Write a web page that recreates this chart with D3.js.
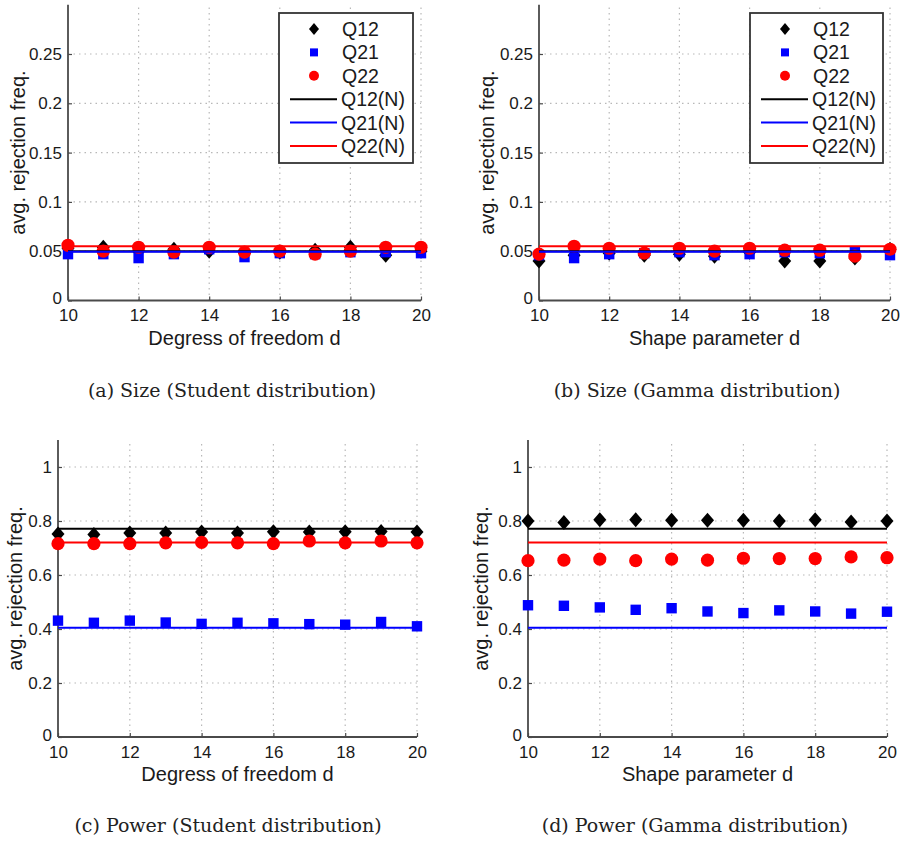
<!DOCTYPE html>
<html>
<head>
<meta charset="utf-8">
<script src="https://cdn.jsdelivr.net/npm/d3@7"></script>
<style>
  html, body { margin: 0; padding: 0; background: #fff; }
  svg { display: block; }
</style>
</head>
<body>
<svg id="chart" width="901" height="842"></svg>
<script>
// ---------------- data ----------------
const dValues = [10, 11, 12, 13, 14, 15, 16, 17, 18, 19, 20];
const xTicks = [10, 12, 14, 16, 18, 20];
const sizeTicks = [0, 0.05, 0.1, 0.15, 0.2, 0.25];
const powerTicks = [0, 0.2, 0.4, 0.6, 0.8, 1];
const seriesNames = ["Q12", "Q21", "Q22"];
const lineNames = ["Q12(N)", "Q21(N)", "Q22(N)"];

// (a) Size, Student
const sizeStudentQ12 = [0.053, 0.054, 0.050, 0.052, 0.050, 0.048, 0.049, 0.051, 0.054, 0.046, 0.050];
const sizeStudentQ21 = [0.047, 0.047, 0.043, 0.047, 0.052, 0.044, 0.048, 0.047, 0.049, 0.049, 0.048];
const sizeStudentQ22 = [0.056, 0.050, 0.054, 0.049, 0.054, 0.049, 0.050, 0.047, 0.050, 0.054, 0.054];
// (b) Size, Gamma
const sizeGammaQ12 = [0.040, 0.046, 0.048, 0.046, 0.047, 0.045, 0.049, 0.040, 0.040, 0.043, 0.052];
const sizeGammaQ21 = [0.046, 0.043, 0.047, 0.048, 0.049, 0.046, 0.047, 0.049, 0.048, 0.050, 0.046];
const sizeGammaQ22 = [0.047, 0.055, 0.053, 0.048, 0.053, 0.050, 0.053, 0.051, 0.051, 0.045, 0.052];
// (c) Power, Student
const powerStudentQ12 = [0.752, 0.750, 0.756, 0.756, 0.759, 0.756, 0.760, 0.759, 0.760, 0.761, 0.759];
const powerStudentQ21 = [0.431, 0.423, 0.431, 0.424, 0.419, 0.423, 0.421, 0.418, 0.416, 0.426, 0.410];
const powerStudentQ22 = [0.716, 0.716, 0.716, 0.719, 0.721, 0.719, 0.716, 0.726, 0.719, 0.726, 0.719];
// (d) Power, Gamma
const powerGammaQ12 = [0.800, 0.794, 0.805, 0.805, 0.803, 0.803, 0.803, 0.800, 0.805, 0.796, 0.800];
const powerGammaQ21 = [0.488, 0.486, 0.480, 0.471, 0.477, 0.465, 0.459, 0.469, 0.465, 0.457, 0.464];
const powerGammaQ22 = [0.653, 0.655, 0.659, 0.653, 0.659, 0.655, 0.662, 0.661, 0.661, 0.667, 0.664];
// normal-reference levels (Q12(N), Q21(N), Q22(N))
const sizeNormal = [0.050, 0.0495, 0.055];
const powerNormal = [0.771, 0.405, 0.720];

const xLabelStudent = "Degress of freedom d";
const xLabelGamma = "Shape parameter d";
const yLabel = "avg. rejection freq.";
const captions = [
  "(a) Size (Student distribution)",
  "(b) Size (Gamma distribution)",
  "(c) Power (Student distribution)",
  "(d) Power (Gamma distribution)"
];

// ---------------- layout ----------------
const colors = ["#000000", "#0000ff", "#ff0000"];
const panels = [
  { x0: 68, x1: 421, yB: 300.5, yT: 4.7, dom: [0, 0.3], ticks: sizeTicks,
    s: [sizeStudentQ12, sizeStudentQ21, sizeStudentQ22], n: sizeNormal,
    xl: xLabelStudent, ylx: 18, cap: captions[0], capx: 232, capy: 390,
    legend: { x: 279, y: 13, w: 134, h: 150 } },
  { x0: 539, x1: 890, yB: 300.5, yT: 4.7, dom: [0, 0.3], ticks: sizeTicks,
    s: [sizeGammaQ12, sizeGammaQ21, sizeGammaQ22], n: sizeNormal,
    xl: xLabelGamma, ylx: 487, cap: captions[1], capx: 697, capy: 390,
    legend: { x: 750, y: 13, w: 133, h: 150 } },
  { x0: 58, x1: 417, yB: 737, yT: 440, dom: [0, 1.1], ticks: powerTicks,
    s: [powerStudentQ12, powerStudentQ21, powerStudentQ22], n: powerNormal,
    xl: xLabelStudent, ylx: 15, cap: captions[2], capx: 228, capy: 825 },
  { x0: 528, x1: 887, yB: 737, yT: 440, dom: [0, 1.1], ticks: powerTicks,
    s: [powerGammaQ12, powerGammaQ21, powerGammaQ22], n: powerNormal,
    xl: xLabelGamma, ylx: 481, cap: captions[3], capx: 695, capy: 825 }
];

const svg = d3.select("#chart");
const sansFont = "Liberation Sans, Arial, Helvetica, sans-serif";
const serifFont = "DejaVu Serif, Liberation Serif, serif";
const axisColor = "#4a4a4a";
const gridColor = "#b8b8b8";

function markerPath(kind, cx, cy) {
  if (kind === 0) { // diamond
    const w = 6.5, h = 7.5;
    return `M${cx},${cy - h}L${cx + w},${cy}L${cx},${cy + h}L${cx - w},${cy}Z`;
  } else if (kind === 1) { // square
    const s = 5.2;
    return `M${cx - s},${cy - s}H${cx + s}V${cy + s}H${cx - s}Z`;
  }
  return null;
}

function drawMarker(g, kind, cx, cy, r) {
  if (kind === 2) {
    g.append("circle").attr("cx", cx).attr("cy", cy).attr("r", r || 6.6)
      .attr("fill", colors[2]);
  } else {
    g.append("path").attr("d", markerPath(kind, cx, cy)).attr("fill", colors[kind]);
  }
}

panels.forEach(p => {
  const x = d3.scaleLinear().domain([10, 20]).range([p.x0, p.x1]);
  const y = d3.scaleLinear().domain(p.dom).range([p.yB, p.yT]);
  const g = svg.append("g");

  // grid
  g.append("g").selectAll("line").data(xTicks.filter(t => t !== 10)).join("line")
    .attr("x1", d => x(d)).attr("x2", d => x(d))
    .attr("y1", p.yB).attr("y2", p.yT)
    .attr("stroke", gridColor).attr("stroke-width", 1.2).attr("stroke-dasharray", "1.5,4");
  g.append("g").selectAll("line").data(p.ticks.filter(t => t !== 0)).join("line")
    .attr("x1", p.x0).attr("x2", p.x1)
    .attr("y1", d => y(d)).attr("y2", d => y(d))
    .attr("stroke", gridColor).attr("stroke-width", 1.2).attr("stroke-dasharray", "1.5,4");

  // axes (ticks inside)
  const xAxis = d3.axisBottom(x).tickValues(xTicks).tickSize(-4).tickPadding(8)
    .tickFormat(d3.format("d"));
  const gx = g.append("g").attr("transform", `translate(0,${p.yB})`).call(xAxis);
  const yAxis = d3.axisLeft(y).tickValues(p.ticks).tickSize(-4).tickPadding(6)
    .tickFormat(d => d === 0 ? "0" : String(d));
  const gy = g.append("g").attr("transform", `translate(${p.x0},0)`).call(yAxis);
  [gx, gy].forEach(a => {
    a.select(".domain").attr("stroke", axisColor).attr("stroke-width", 1.8);
    a.selectAll(".tick line").attr("stroke", axisColor).attr("stroke-width", 1.2);
    a.selectAll(".tick text").attr("fill", "#1a1a1a").attr("font-family", sansFont)
      .attr("font-size", 17);
  });
  gx.select(".domain").attr("d", `M${p.x0},0H${p.x1}`);
  gy.select(".domain").attr("d", `M0,${p.yB}V${p.yT}`);
  gx.selectAll(".tick text").attr("dy", "0.74em");
  gy.selectAll(".tick text").filter(d => d === 0).attr("dy", "0.2em");

  // markers: Q12, Q21, Q22
  p.s.forEach((vals, k) => {
    const mg = g.append("g");
    vals.forEach((v, i) => drawMarker(mg, k, x(dValues[i]), y(v)));
  });

  // normal-reference lines drawn on top
  p.n.forEach((v, k) => {
    g.append("line").attr("x1", x(10)).attr("x2", x(20))
      .attr("y1", y(v)).attr("y2", y(v))
      .attr("stroke", colors[k]).attr("stroke-width", 2);
  });

  // axis titles
  g.append("text").attr("x", (p.x0 + p.x1) / 2).attr("y", p.yB + 44)
    .attr("text-anchor", "middle").attr("font-family", sansFont)
    .attr("font-size", 20).attr("fill", "#1a1a1a").text(p.xl);
  g.append("text")
    .attr("transform", `translate(${p.ylx},${(p.yB + p.yT) / 2}) rotate(-90)`)
    .attr("text-anchor", "middle").attr("dominant-baseline", "central")
    .attr("font-family", sansFont).attr("font-size", 20).attr("fill", "#1a1a1a")
    .text(yLabel);

  // caption
  g.append("text").attr("x", p.capx).attr("y", p.capy)
    .attr("text-anchor", "middle").attr("dominant-baseline", "central")
    .attr("font-family", serifFont).attr("font-size", 19).attr("fill", "#222")
    .text(p.cap);

  // legend
  if (p.legend) {
    const L = p.legend;
    const lg = g.append("g");
    lg.append("rect").attr("x", L.x).attr("y", L.y).attr("width", L.w).attr("height", L.h)
      .attr("fill", "#fff").attr("stroke", "#333").attr("stroke-width", 1.8);
    const rowY = i => L.y + 16 + i * 23.4;
    const mx = L.x + 35, tx = L.x + 63;
    seriesNames.forEach((name, k) => {
      if (k === 2) {
        lg.append("circle").attr("cx", mx).attr("cy", rowY(k)).attr("r", 5).attr("fill", colors[2]);
      } else if (k === 1) {
        lg.append("rect").attr("x", mx - 4).attr("y", rowY(k) - 4).attr("width", 8).attr("height", 8)
          .attr("fill", colors[1]);
      } else {
        lg.append("path").attr("d", `M${mx},${rowY(k) - 6}L${mx + 5},${rowY(k)}L${mx},${rowY(k) + 6}L${mx - 5},${rowY(k)}Z`)
          .attr("fill", colors[0]);
      }
      lg.append("text").attr("x", tx).attr("y", rowY(k)).attr("dominant-baseline", "central")
        .attr("font-family", sansFont).attr("font-size", 19.5).attr("fill", "#1a1a1a").text(name);
    });
    lineNames.forEach((name, k) => {
      const ry = rowY(k + 3);
      lg.append("line").attr("x1", L.x + 11).attr("x2", L.x + 58).attr("y1", ry).attr("y2", ry)
        .attr("stroke", colors[k]).attr("stroke-width", 2);
      lg.append("text").attr("x", tx - 1).attr("y", ry).attr("dominant-baseline", "central")
        .attr("font-family", sansFont).attr("font-size", 19.5).attr("fill", "#1a1a1a").text(name);
    });
  }
});
</script>
</body>
</html>
